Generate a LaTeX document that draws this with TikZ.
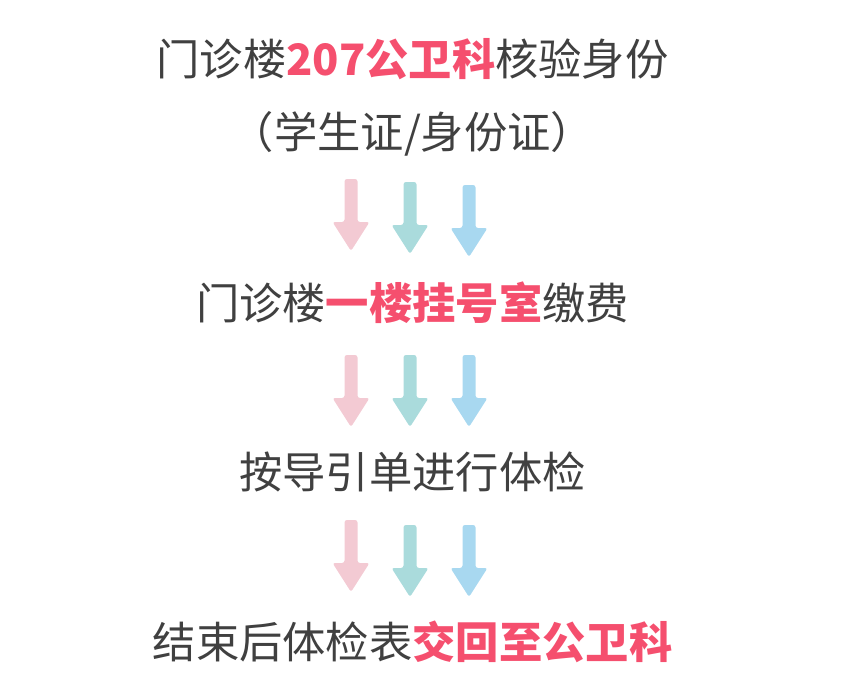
\documentclass[tikz,border=0pt]{standalone}
\usepackage{fontspec}
\newfontfamily\cjk{Noto Sans CJK SC}
\definecolor{txtgray}{HTML}{404040}
\definecolor{hlred}{HTML}{F54F6E}
\definecolor{arrpink}{HTML}{F3CAD3}
\definecolor{arrteal}{HTML}{AADBDC}
\definecolor{arrblue}{HTML}{A8D8F0}
\newcommand{\hl}[1]{{\bfseries\color{hlred}#1}}
\tikzset{
  stepline/.style={anchor=base,text=txtgray,inner sep=0pt,font=\cjk\fontsize{43.3}{52}\selectfont},
  flow/.style={rounded corners=2.5pt}
}
% down arrow: x of shaft centre, y of top, colour
\newcommand{\flowarrow}[3]{\fill[flow,#3] (#1,#2) ++(-6.5,0) -- ++(13,0) -- ++(0,43) -- ++(12,0) -- ++(-18.5,29) -- ++(-18.5,-29) -- ++(12,0) -- cycle;}
\begin{document}
\begin{tikzpicture}[x=1pt,y=-1pt]
\useasboundingbox (0,0) rectangle (850,686);
\node[stepline] (l1) at (412.5,75) {门诊楼\hl{207公卫科}核验身份};
\node[stepline] (l2) at (412.5,148) {（学生证/身份证）};
\node[stepline] (l3) at (412.5,319) {门诊楼\hl{一楼挂号室}缴费};
\node[stepline] (l4) at (412.5,488) {按导引单进行体检};
\node[stepline] (l5) at (412.5,658) {结束后体检表\hl{交回至公卫科}};
% arrows between the steps
\foreach \x/\y/\c in {351/179/arrpink,410/182/arrteal,469/185/arrblue,
                      351/355/arrpink,410/355/arrteal,469/355/arrblue,
                      351/520/arrpink,410/525/arrteal,469/525/arrblue}
  {\flowarrow{\x}{\y}{\c}}
\end{tikzpicture}
\end{document}
